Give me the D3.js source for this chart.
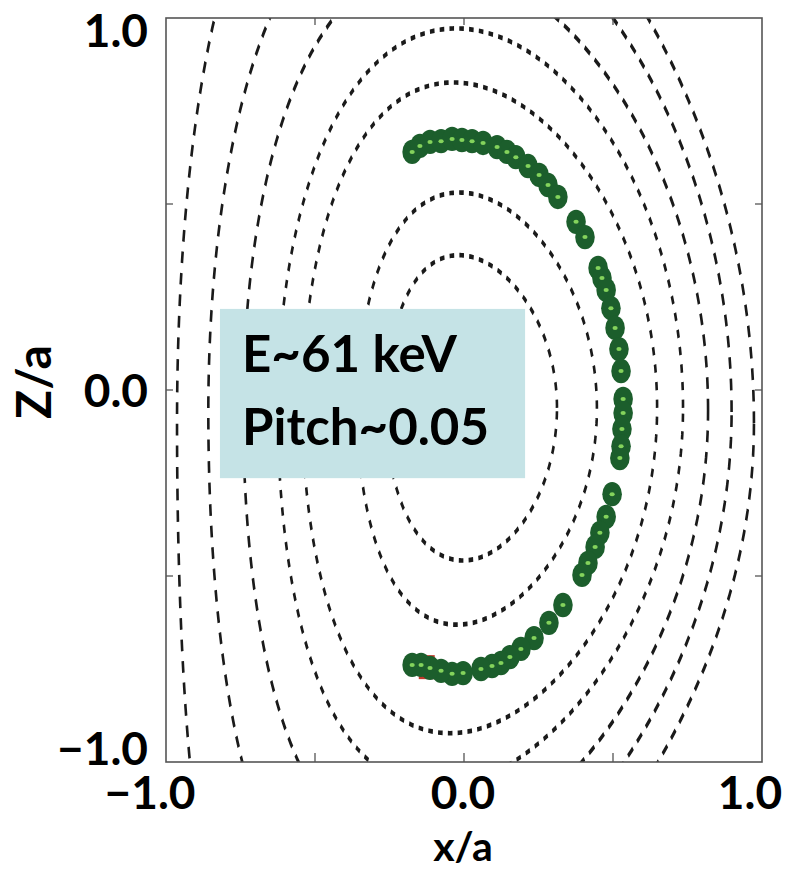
<!DOCTYPE html>
<html>
<head>
<meta charset="utf-8">
<script src="https://cdn.jsdelivr.net/npm/d3@7"></script>
<style>
  html, body { margin: 0; padding: 0; background: #ffffff; }
  svg { display: block; }
</style>
</head>
<body>
<div id="chart"></div>
<script>
// ---------------- data ----------------
// Flux-surface contours (Miller-like shape parameters)
const contourX0     = [0.025, 0.044, 0.053, 0.055, 0.039, 0.020, 0.005];
const contourR      = [0.287, 0.402, 0.595, 0.680, 0.780, 0.878, 0.968];
const contourKappa  = [1.43, 1.445, 1.47, 1.50, 1.546, 1.611, 1.744];
const contourDeltaT = [0.15, 0.15, 0.15, 0.12, 0.172, 0.196, 0.287];
const contourDeltaB = [0.10, 0.17, 0.17, 0.22, 0.25, 0.32, 0.50];
const contourZ0     = [-0.048, -0.050, -0.048, -0.048, -0.055, -0.059, -0.089];
const contourStyle  = ["dot", "dot", "dot", "dot", "dash", "dash", "dash"];

// Orbit points (x/a, Z/a)
const orbitX = [-0.174, -0.148, -0.114, -0.077, -0.040, -0.007, 0.027, 0.064, 0.111, 0.144,
                 0.174, 0.215, 0.252, 0.282, 0.315, 0.376, 0.406, 0.450, 0.463, 0.477,
                 0.493, 0.507, 0.520, 0.527, 0.534, 0.534, 0.530, 0.527, 0.523, 0.497,
                 0.477, 0.456, 0.440, 0.416, 0.396, 0.332, 0.285, 0.235, 0.191, 0.154,
                 0.124, 0.094, 0.057, -0.003, -0.040, -0.077, -0.114, -0.144, -0.174];
const orbitZ = [ 0.640, 0.656, 0.667, 0.669, 0.675, 0.672, 0.669, 0.664, 0.653, 0.640,
                 0.626, 0.602, 0.578, 0.551, 0.519, 0.452, 0.411, 0.328, 0.301, 0.269,
                 0.220, 0.167, 0.110, 0.051, -0.024, -0.062, -0.105, -0.151, -0.183, -0.280,
                -0.341, -0.384, -0.422, -0.465, -0.497, -0.578, -0.626, -0.667, -0.696, -0.718,
                -0.734, -0.742, -0.750, -0.761, -0.763, -0.755, -0.747, -0.739, -0.739];

// small red marker partly hidden under the orbit
const markerX = [-0.125];
const markerZ = [-0.745];

const xTickValues = [-1.0, 0.0, 1.0];
const yTickValues = [-1.0, 0.0, 1.0];
const minorTicks  = [-0.5, 0.0, 0.5];
const tickLabel = d => d3.format(".1f")(d);

const xLabel = "x/a";
const yLabel = "Z/a";
const infoLines = ["E~61 keV", "Pitch~0.05"];

// ---------------- layout ----------------
const W = 802, H = 871;
const L = 166, R = 762, T = 18, B = 762;
const FONT = "Lato, 'Open Sans', 'DejaVu Sans', sans-serif";

const svg = d3.select("#chart").append("svg")
  .attr("width", W).attr("height", H);

const x = d3.scaleLinear().domain([-1, 1]).range([L, R]);
const y = d3.scaleLinear().domain([-1, 1]).range([B, T]);

// vertical stretch used for the contour dashes (picture looks stretched)
const k = 1.8;
const yStretch = d3.scaleLinear().domain([-1, 1]).range([B / k, T / k]);

svg.append("defs").append("clipPath").attr("id", "plotclip")
  .append("rect").attr("x", L).attr("y", T).attr("width", R - L).attr("height", B - T);

// ---------------- contours ----------------
const line = d3.line().x(d => x(d[0])).y(d => yStretch(d[1])).curve(d3.curveLinearClosed);
const contourG = svg.append("g").attr("clip-path", "url(#plotclip)")
  .append("g").attr("transform", `scale(1,${k})`);

contourR.forEach((r, i) => {
  const pts = d3.range(0, 360, 1).map(deg => {
    const th = deg * Math.PI / 180;
    const s = Math.sin(th);
    const dl = s >= 0 ? contourDeltaT[i] : contourDeltaB[i];
    return [contourX0[i] + r * Math.cos(th + dl * s),
            contourZ0[i] + contourKappa[i] * r * s];
  });
  contourG.append("path")
    .attr("d", line(pts))
    .attr("fill", "none")
    .attr("stroke", "#1a1a1a")
    .attr("stroke-width", 2.6)
    .attr("stroke-dasharray", contourStyle[i] === "dot" ? "4.6,5.2" : "6.5,5.5");
});

// ---------------- info box ----------------
svg.append("rect")
  .attr("x", x(-0.819)).attr("y", y(0.218))
  .attr("width", x(0.205) - x(-0.819)).attr("height", y(-0.237) - y(0.218))
  .attr("fill", "#c5e3e6");

svg.append("g").selectAll("text").data(infoLines).join("text")
  .attr("x", x(-0.745))
  .attr("y", (d, i) => i === 0 ? 372 : 445)
  .attr("font-family", FONT).attr("font-weight", 700).attr("font-size", 51)
  .attr("fill", "#000")
  .text(d => d);

// ---------------- orbit ----------------
const orbit = orbitX.map((v, i) => [v, orbitZ[i]]);
const orbitG = svg.append("g");
orbitG.selectAll("rect.marker").data(markerX.map((v, i) => [v, markerZ[i]])).join("rect")
  .attr("class", "marker")
  .attr("x", d => x(d[0]) - 8).attr("y", d => y(d[1]) - 12)
  .attr("width", 16).attr("height", 24).attr("fill", "#c0392b");
orbitG.selectAll("ellipse.blob").data(orbit).join("ellipse")
  .attr("class", "blob")
  .attr("cx", d => x(d[0])).attr("cy", d => y(d[1]))
  .attr("rx", 9.8).attr("ry", 12.2)
  .attr("fill", "#1c5e2c");
orbitG.selectAll("ellipse.dot").data(orbit).join("ellipse")
  .attr("class", "dot")
  .attr("cx", d => x(d[0])).attr("cy", d => y(d[1]))
  .attr("rx", 2.6).attr("ry", 2)
  .attr("fill", "#84d35c");

// ---------------- frame & ticks ----------------
svg.append("rect")
  .attr("x", L).attr("y", T).attr("width", R - L).attr("height", B - T)
  .attr("fill", "none").attr("stroke", "#555").attr("stroke-width", 1.6);

const tickG = svg.append("g").attr("stroke", "#555").attr("stroke-width", 1.3);
minorTicks.forEach(v => {
  tickG.append("line").attr("x1", x(v)).attr("x2", x(v)).attr("y1", T).attr("y2", T + 7);
  tickG.append("line").attr("x1", x(v)).attr("x2", x(v)).attr("y1", B).attr("y2", B - 9);
  tickG.append("line").attr("y1", y(v)).attr("y2", y(v)).attr("x1", L).attr("x2", L + 7);
  tickG.append("line").attr("y1", y(v)).attr("y2", y(v)).attr("x1", R).attr("x2", R - 7);
});

// ---------------- tick labels ----------------
const xOff = {"-1": -16, "0": -1, "1": -12};
svg.append("g").selectAll("text").data(xTickValues).join("text")
  .attr("x", d => x(d) + xOff[String(d)])
  .attr("y", 809)
  .attr("text-anchor", "middle")
  .attr("font-family", FONT).attr("font-weight", 700).attr("font-size", 46)
  .text(tickLabel);

const yBase = {"1": 47, "0": 407, "-1": 765};
svg.append("g").selectAll("text").data(yTickValues).join("text")
  .attr("x", 148)
  .attr("y", d => yBase[String(d)])
  .attr("text-anchor", "end")
  .attr("font-family", FONT).attr("font-weight", 700).attr("font-size", 46)
  .text(tickLabel);

// ---------------- axis titles ----------------
svg.append("text")
  .attr("x", 463).attr("y", 861)
  .attr("text-anchor", "middle")
  .attr("font-family", FONT).attr("font-weight", 700).attr("font-size", 41)
  .text(xLabel);

svg.append("text")
  .attr("transform", "translate(51,382) rotate(-90)")
  .attr("text-anchor", "middle")
  .attr("font-family", FONT).attr("font-weight", 700).attr("font-size", 48)
  .text(yLabel);
</script>
</body>
</html>
